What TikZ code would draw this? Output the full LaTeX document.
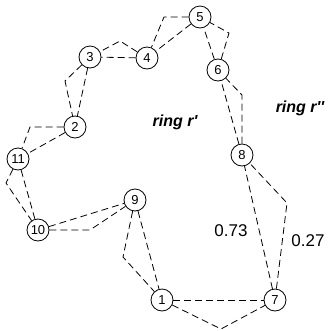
\documentclass[tikz,border=0pt]{standalone}
\usepackage{fontspec}
\setmainfont{Liberation Sans}
\usetikzlibrary{positioning,calc}

\begin{document}
\begin{tikzpicture}[
  x=1pt, y=-1pt, font=\fontsize{13}{15}\selectfont,
  station/.style={circle, draw=black, thick, fill=white, minimum size=22pt, inner sep=0pt},
  link/.style={draw=black, thick, dash pattern=on 7pt off 4pt},
  ringlabel/.style={font=\fontsize{16}{18}\selectfont\bfseries\itshape},
  prob/.style={font=\fontsize{17}{19}\selectfont}
]
\useasboundingbox (0,0) rectangle (332,330);

% stations
\node[station] (n1) at (162,300) {1};
\node[station] (n7) at (275,300) {7};
\node[station] (n8) at (242,155) {8};
\node[station] (n6) at (218,70) {6};
\node[station] (n5) at (200,17) {5};
\node[station] (n4) at (147,58) {4};
\node[station] (n3) at (90,57) {3};
\node[station] (n2) at (75,127) {2};
\node[station] (n11) at (18,159) {11};
\node[station] (n10) at (38,230) {10};
\node[station] (n9) at (135,200) {9};

% bends of the second ring
\coordinate (b17) at (221,329);
\coordinate (b78) at (287,203);
\coordinate (b86) at (242,95);
\coordinate (b65) at (229,33);
\coordinate (b54) at (164,17);
\coordinate (b43) at (120,41);
\coordinate (b32) at (65,81);
\coordinate (b211) at (30,127);
\coordinate (b1110) at (6,183);
\coordinate (b109) at (90,230);
\coordinate (b91) at (123,257);

% links
\draw[link] (n1) -- (n7);
\draw[link] (n1) -- (b17) -- (n7);
\draw[link] (n7) -- (n8);
\draw[link] (n7) -- (b78) -- (n8);
\draw[link] (n8) -- (n6);
\draw[link] (n8) -- (b86) -- (n6);
\draw[link] (n6) -- (n5);
\draw[link] (n6) -- (b65) -- (n5);
\draw[link] (n5) -- (n4);
\draw[link] (n5) -- (b54) -- (n4);
\draw[link] (n4) -- (n3);
\draw[link] (n4) -- (b43) -- (n3);
\draw[link] (n3) -- (n2);
\draw[link] (n3) -- (b32) -- (n2);
\draw[link] (n2) -- (n11);
\draw[link] (n2) -- (b211) -- (n11);
\draw[link] (n11) -- (n10);
\draw[link] (n11) -- (b1110) -- (n10);
\draw[link] (n10) -- (n9);
\draw[link] (n10) -- (b109) -- (n9);
\draw[link] (n9) -- (n1);
\draw[link] (n9) -- (b91) -- (n1);

\node[ringlabel] (rone) at (175,122) {ring r\textquotesingle};
\node[ringlabel] (rtwo) at (300,108) {ring r\textquotesingle\textquotesingle};
\node[prob] (p1) at (231,231) {0.73};
\node[prob] (p2) at (308,241) {0.27};
\end{tikzpicture}
\end{document}
